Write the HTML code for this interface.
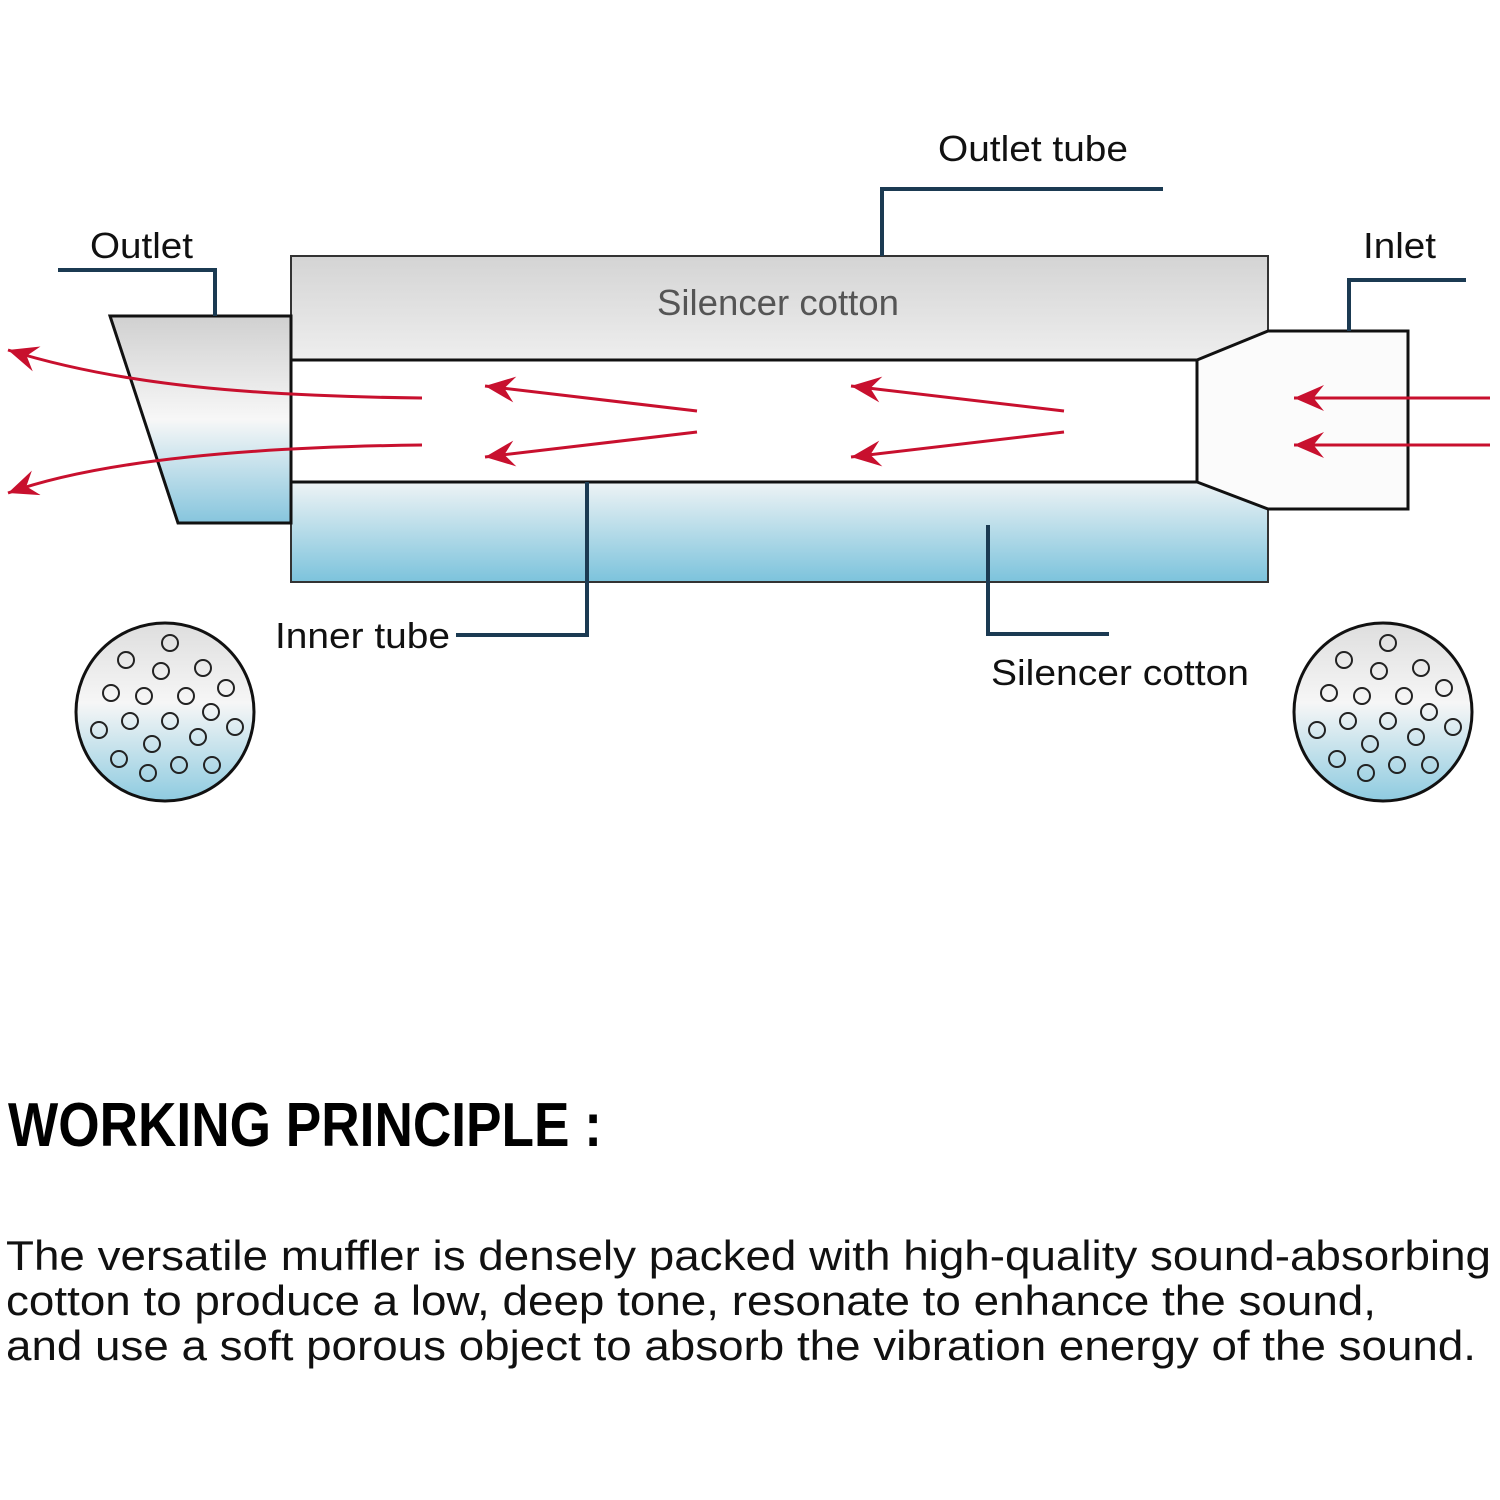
<!DOCTYPE html>
<html><head><meta charset="utf-8"><style>html,body{margin:0;padding:0;background:#fff}svg{display:block}</style></head>
<body>
<svg width="1500" height="1500" viewBox="0 0 1500 1500" xmlns="http://www.w3.org/2000/svg" font-family="Liberation Sans, Arial, sans-serif">
<defs>
<linearGradient id="gray" x1="0" y1="0" x2="0" y2="1"><stop offset="0" stop-color="#d4d4d4"/><stop offset="1" stop-color="#eeeeee"/></linearGradient>
<linearGradient id="blue" x1="0" y1="0" x2="0" y2="1"><stop offset="0" stop-color="#eef3f5"/><stop offset="1" stop-color="#7cc3dc"/></linearGradient>
<linearGradient id="outl" x1="0" y1="0" x2="0" y2="1"><stop offset="0" stop-color="#d0d0d0"/><stop offset="0.5" stop-color="#f7f7f7"/><stop offset="1" stop-color="#86c5dd"/></linearGradient>
<linearGradient id="disc" x1="0" y1="0" x2="0" y2="1"><stop offset="0" stop-color="#dedede"/><stop offset="0.45" stop-color="#f6f6f6"/><stop offset="1" stop-color="#8ecbe0"/></linearGradient>
<marker id="ah" viewBox="0 0 20 20" refX="20" refY="10" markerWidth="30" markerHeight="26" markerUnits="userSpaceOnUse" orient="auto" preserveAspectRatio="none"><path d="M20,10 L0,0 L7,10 L0,20 Z" fill="#c8102e"/></marker>
<g id="holes" fill="none" stroke="#222" stroke-width="2">
<circle cx="170" cy="643" r="8"/><circle cx="126" cy="660" r="8"/><circle cx="161" cy="671" r="8"/><circle cx="203" cy="668" r="8"/><circle cx="226" cy="688" r="8"/><circle cx="111" cy="693" r="8"/><circle cx="144" cy="696" r="8"/><circle cx="186" cy="696" r="8"/><circle cx="211" cy="712" r="8"/><circle cx="130" cy="721" r="8"/><circle cx="170" cy="721" r="8"/><circle cx="235" cy="727" r="8"/><circle cx="99" cy="730" r="8"/><circle cx="152" cy="744" r="8"/><circle cx="198" cy="737" r="8"/><circle cx="119" cy="759" r="8"/><circle cx="148" cy="773" r="8"/><circle cx="179" cy="765" r="8"/><circle cx="212" cy="765" r="8"/>
</g>
</defs>
<rect width="1500" height="1500" fill="#fff"/>
<rect x="291" y="256" width="977" height="104" fill="url(#gray)" stroke="#333" stroke-width="2"/>
<rect x="291" y="482" width="977" height="100" fill="url(#blue)" stroke="#333" stroke-width="2"/>
<rect x="291" y="360" width="906" height="122" fill="#fff" stroke="#111" stroke-width="3"/>
<path d="M1197,360 L1268,331 L1408,331 L1408,509 L1268,509 L1197,482 Z" fill="#fbfbfb" stroke="#111" stroke-width="3"/>
<path d="M110,316 L291,316 L291,523 L178,523 Z" fill="url(#outl)" stroke="#111" stroke-width="3"/>
<g fill="none" stroke="#1b3a52" stroke-width="4">
<path d="M58,270 H215 V316"/>
<path d="M882,256 V189 H1163"/>
<path d="M1349,331 V280 H1466"/>
<path d="M456,635 H587 V482"/>
<path d="M988,525 V634 H1109"/>
</g>
<g fill="none" stroke="#c8102e" stroke-width="3" marker-end="url(#ah)">
<path d="M422,398 C250,396 120,385 8,350"/>
<path d="M422,445 C250,447 100,460 8,493"/>
<path d="M697,411 L485,386"/>
<path d="M697,432 L485,457"/>
<path d="M1064,411 L851,386"/>
<path d="M1064,432 L851,457"/>
<path d="M1490,398 L1294,398"/>
<path d="M1490,445 L1294,445"/>
</g>
<circle cx="165" cy="712" r="89" fill="url(#disc)" stroke="#111" stroke-width="3"/>
<use href="#holes"/>
<circle cx="1383" cy="712" r="89" fill="url(#disc)" stroke="#111" stroke-width="3"/>
<use href="#holes" transform="translate(1218,0)"/>
<g font-size="36" fill="#111">
<text x="938" y="161" textLength="190" lengthAdjust="spacingAndGlyphs">Outlet tube</text>
<text x="90" y="258" textLength="103" lengthAdjust="spacingAndGlyphs">Outlet</text>
<text x="1363" y="258" textLength="73" lengthAdjust="spacingAndGlyphs">Inlet</text>
<text x="275" y="648" textLength="175" lengthAdjust="spacingAndGlyphs">Inner tube</text>
<text x="991" y="685" textLength="258" lengthAdjust="spacingAndGlyphs">Silencer cotton</text>
<text x="657" y="315" fill="#555" textLength="242" lengthAdjust="spacingAndGlyphs">Silencer cotton</text>
</g>
<text x="8" y="1146" font-size="62" font-weight="bold" fill="#000" textLength="594" lengthAdjust="spacingAndGlyphs">WORKING PRINCIPLE :</text>
<g font-size="42" fill="#111">
<text x="6" y="1270" textLength="1485" lengthAdjust="spacingAndGlyphs">The versatile muffler is densely packed with high-quality sound-absorbing</text>
<text x="6" y="1315" textLength="1370" lengthAdjust="spacingAndGlyphs">cotton to produce a low, deep tone, resonate to enhance the sound,</text>
<text x="6" y="1360" textLength="1470" lengthAdjust="spacingAndGlyphs">and use a soft porous object to absorb the vibration energy of the sound.</text>
</g>
</svg>
</body></html>
